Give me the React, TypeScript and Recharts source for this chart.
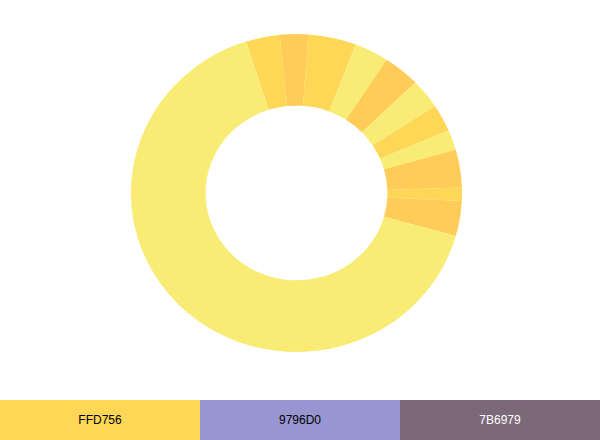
import { PieChart, Pie, Cell } from 'recharts';

// slice sizes in degrees, clockwise starting at the top-left edge of the coloured band
const sliceNames = ['a', 'b', 'c', 'd', 'e', 'f', 'g', 'h', 'i', 'j', 'k', 'l'];
const sliceValues = [12, 9.9, 16.9, 12, 13, 10.8, 10.1, 7.3, 13.8, 4.9, 12.8, 236.5];
const sliceColors = [
  '#FFD756', '#FFCC57', '#FFD756', '#F8EC74', '#FFCC57', '#F8EC74',
  '#FFD756', '#F8EC74', '#FFCC57', '#FFD756', '#FFCC57', '#F8EC74',
];

const paletteCodes = ['FFD756', '9796D0', '7B6979'];
const paletteText = ['#000000', '#000000', '#FFFFFF'];

const data = sliceNames.map((name, i) => ({ name, value: sliceValues[i] }));

export default function App() {
  return (
    <div style={{ position: 'fixed', left: 0, top: 0, width: 600, height: 440, background: '#fff' }}>
      {/* the original ring is a touch wider than tall */}
      <div style={{ width: 600, height: 400, transform: 'scale(1.0216, 0.9815)', transformOrigin: '296.5px 193px' }}>
        <PieChart width={600} height={400} margin={{ top: 0, right: 0, bottom: 0, left: 0 }}>
          <Pie
            data={data}
            dataKey="value"
            cx={296.5}
            cy={193}
            innerRadius={89}
            outerRadius={162}
            startAngle={107.8}
            endAngle={-252.2}
            stroke="none"
            isAnimationActive={false}
          >
            {data.map((_, index) => (
              <Cell key={`cell-${index}`} fill={sliceColors[index]} />
            ))}
          </Pie>
        </PieChart>
      </div>
      <div style={{ display: 'flex', height: 40 }}>
        {paletteCodes.map((code, i) => (
          <div
            key={code}
            style={{
              width: 200,
              height: 40,
              background: `#${code}`,
              color: paletteText[i],
              fontFamily: '"Liberation Sans", Arial, sans-serif',
              fontSize: 12,
              display: 'flex',
              alignItems: 'center',
              justifyContent: 'center',
            }}
          >
            {code}
          </div>
        ))}
      </div>
    </div>
  );
}
